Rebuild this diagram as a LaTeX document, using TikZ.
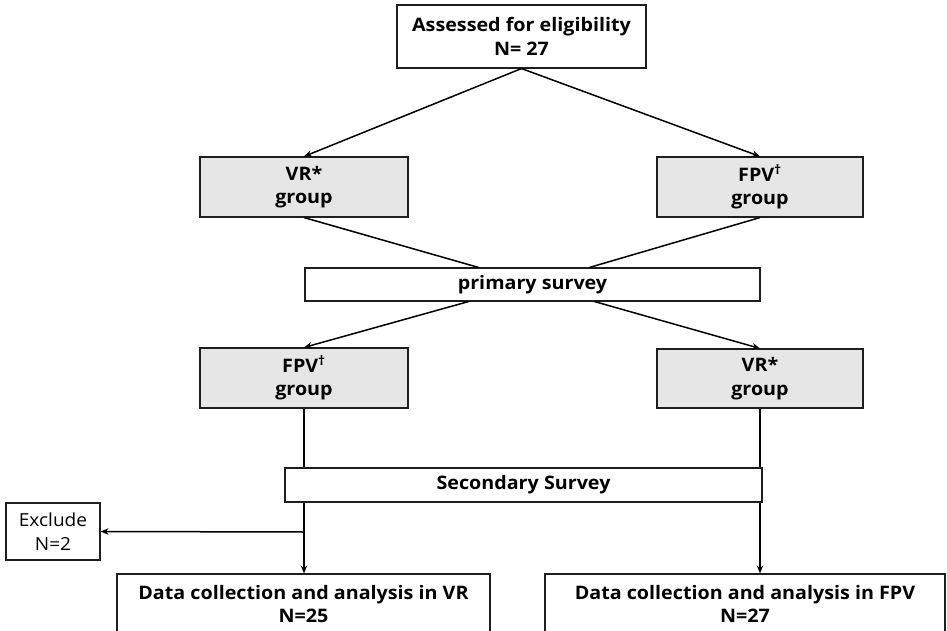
\documentclass[tikz,border=0pt]{standalone}
\usepackage{fontspec}
\setmainfont{Open Sans}[FakeStretch=1.06]
\usetikzlibrary{arrows.meta,calc}
\definecolor{boxgray}{RGB}{230,230,230}
\definecolor{edge}{RGB}{30,30,30}
\tikzset{
  base/.style={draw=edge, line width=1.1pt, rectangle, inner sep=0pt, align=center,
    font=\fontsize{18.6}{23.5}\selectfont\bfseries, text=black},
  whitebox/.style={base, fill=white},
  graybox/.style={base, fill=boxgray},
  conn/.style={draw=black, line width=1.5pt},
  arr/.style={conn, -{Stealth[length=8pt,width=6.5pt]}}
}
\begin{document}
\begin{tikzpicture}[x=1pt,y=-1pt]
\useasboundingbox (0,0) rectangle (947,631);
\clip (0,0) rectangle (947,631);
\fill[white] (0,0) rectangle (947,631);
\node[whitebox, minimum width=249pt, minimum height=63pt] (top) at (521.5,36.5) {Assessed for eligibility\\N= 27};
\node[graybox, minimum width=208pt, minimum height=60pt] (vr1) at (304,187) {VR*\\group};
\node[graybox, minimum width=206pt, minimum height=60pt] (fpv1) at (760,187) {FPV\textsuperscript{†}\\group};
\node[whitebox, minimum width=455pt, minimum height=33pt] (prim) at (532.5,284.5) {primary survey};
\node[graybox, minimum width=208pt, minimum height=60pt] (fpv2) at (304,378) {FPV\textsuperscript{†}\\group};
\node[graybox, minimum width=206pt, minimum height=59pt] (vr2) at (760,378.5) {VR*\\group};
\node[whitebox, minimum width=477pt, minimum height=34pt] (sec) at (523.5,485) {Secondary Survey};
\node[whitebox, minimum width=94pt, minimum height=57pt, font=\fontsize{18}{24}\selectfont] (excl) at (53,531.5) {Exclude\\N=2};
\node[whitebox, minimum width=373pt, minimum height=60pt] (dvr) at (303.5,604) {Data collection and analysis in VR\\N=25};
\node[whitebox, minimum width=400pt, minimum height=60pt] (dfpv) at (745,604) {Data collection and analysis in FPV\\N=27};
\coordinate (br) at (304,532);
\draw[arr] (top.south) -- (vr1.north);
\draw[arr] (top.south) -- (fpv1.north);
\draw[conn] (vr1.south) -- ($(prim.north)+(-54,0)$);
\draw[conn] (fpv1.south) -- ($(prim.north)+(57,0)$);
\draw[arr] ($(prim.south)+(-64,0)$) -- (fpv2.north);
\draw[arr] ($(prim.south)+(62,0)$) -- (vr2.north);
\draw[conn] (fpv2.south) -- (fpv2.south |- sec.north);
\draw[conn] (vr2.south) -- (vr2.south |- sec.north);
\draw[arr] (sec.south -| fpv2.south) -- (fpv2.south |- dvr.north);
\draw[arr] (br) -- (excl.east);
\draw[arr] (sec.south -| vr2.south) -- (vr2.south |- dfpv.north);
\end{tikzpicture}
\end{document}
